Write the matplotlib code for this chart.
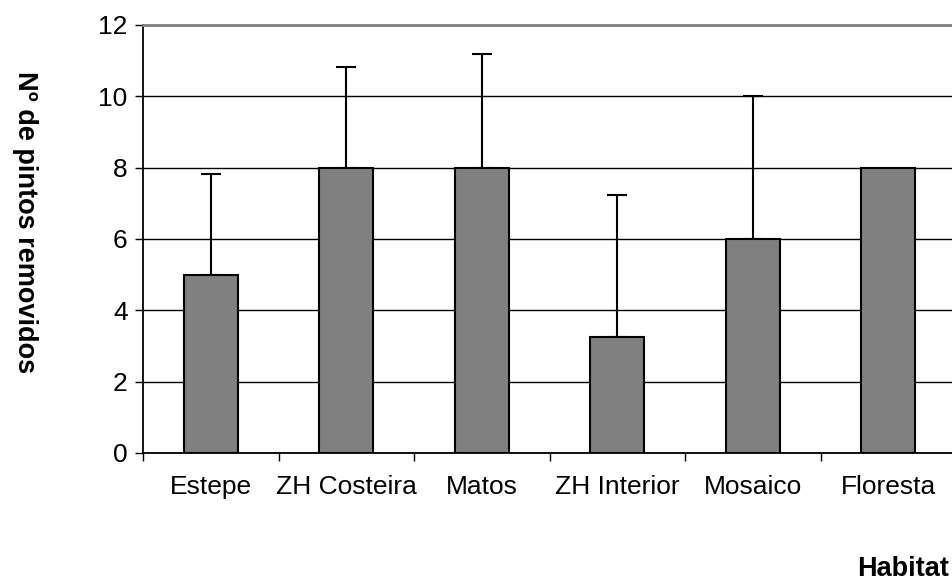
import matplotlib.pyplot as plt
import numpy as np

plt.rcParams['font.family'] = ['Liberation Sans', 'DejaVu Sans']

# data
habitats = ['Estepe', 'ZH Costeira', 'Matos', 'ZH Interior', 'Mosaico', 'Floresta']
means = [5.0, 8.0, 8.0, 3.25, 6.0, 8.0]
err_up = [2.83, 2.83, 3.2, 3.97, 4.0, 0.0]

fig = plt.figure(figsize=(9.52, 5.83), dpi=100)
ax = fig.add_axes([143 / 952, 130 / 583, 813 / 952, 428 / 583])

x = np.arange(len(habitats)) + 0.5
ax.bar(x, means, width=0.4, color='#808080', edgecolor='black', linewidth=1.5, zorder=3)

# only the upper half of each error bar is drawn
has_err = [i for i, e in enumerate(err_up) if e > 0]
ax.errorbar(x[has_err], [means[i] for i in has_err],
            yerr=[[0] * len(has_err), [err_up[i] for i in has_err]],
            fmt='none', ecolor='black', elinewidth=1.5, capsize=7, capthick=1.5, zorder=2)

ax.set_xlim(0, len(habitats))
ax.set_ylim(0, 12)
ax.set_yticks(range(0, 13, 2))
ax.yaxis.grid(True, color='black', linewidth=1)
ax.set_axisbelow(True)

# category ticks sit between the bars, labels at the bar centres
ax.set_xticks(np.arange(len(habitats) + 1))
ax.set_xticklabels([])
ax.set_xticks(x, minor=True)
ax.set_xticklabels(habitats, minor=True, fontsize=19)
ax.tick_params(axis='x', which='minor', length=0, pad=16)
ax.tick_params(axis='x', which='major', length=6, width=1)
ax.tick_params(axis='y', labelsize=19, length=6, width=1, pad=5)

for s in ['left', 'bottom']:
    ax.spines[s].set_linewidth(1.3)
ax.spines['top'].set_color('#808080')
ax.spines['top'].set_linewidth(2)
ax.spines['right'].set_visible(False)

fig.text(25 / 952, 1 - 222 / 583, 'Nº de pintos removidos', rotation=270,
         ha='center', va='center', fontsize=19.5, fontweight='bold')
fig.text(903 / 952, 1 - 569 / 583, 'Habitat', ha='center', va='center',
         fontsize=19.5, fontweight='bold')

fig.savefig('out.png', dpi=100)
